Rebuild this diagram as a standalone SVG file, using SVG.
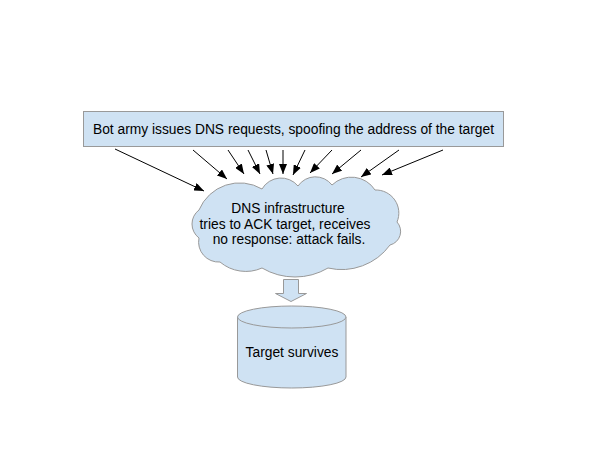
<svg xmlns="http://www.w3.org/2000/svg" width="600" height="450" viewBox="0 0 600 450">
<style>
.shape{fill:#cfe2f3;stroke:#999999;stroke-width:1}
.lbl{font-family:"Liberation Sans",Arial,sans-serif;font-size:13.8px;fill:#000;text-anchor:middle}
.conn{stroke:#000;stroke-width:1;fill:none;marker-end:url(#ah)}
</style>
<defs>
<marker id="ah" markerUnits="userSpaceOnUse" markerWidth="11" markerHeight="8" refX="10" refY="4" orient="auto">
<path d="M0,0 L10,4 L0,8 z" fill="#000"/>
</marker>
</defs>
<rect width="600" height="450" fill="#fff"/>
<g id="bots">
<rect class="shape" x="83.5" y="111.5" width="420" height="35" stroke="#888888"/>
<text class="lbl" x="293.5" y="134">Bot army issues DNS requests, spoofing the address of the target</text>
</g>
<g id="connectors">
<line class="conn" x1="115" y1="149" x2="204" y2="191"/>
<line class="conn" x1="193" y1="150" x2="227" y2="179"/>
<line class="conn" x1="228" y1="150" x2="244" y2="174"/>
<line class="conn" x1="248" y1="150" x2="260" y2="174"/>
<line class="conn" x1="266" y1="150" x2="273" y2="174"/>
<line class="conn" x1="283" y1="150" x2="283" y2="174"/>
<line class="conn" x1="305" y1="150" x2="293" y2="175"/>
<line class="conn" x1="332" y1="150" x2="310" y2="173"/>
<line class="conn" x1="361" y1="150" x2="332" y2="174"/>
<line class="conn" x1="399" y1="150" x2="361" y2="177"/>
<line class="conn" x1="443" y1="150" x2="382" y2="175"/>
<path id="down-arrow" class="shape" d="M283.5,279.5 H298.5 V293.5 H306.5 L291,301.5 L275.5,293.5 H283.5 Z"/>
</g>
<g id="dns">
<path class="shape" d="M199,210 A44 44 0 0 1 262,189 A22 22 0 0 1 298,186 A21 21 0 0 1 332,185 A28 28 0 0 1 375,190 A23 23 0 0 1 397,222 A14 14 0 0 1 390,245 A60 60 0 0 1 328,268 A65 65 0 0 1 262,268 A40 40 0 0 1 220,262 A20 20 0 0 1 199,238 A17.5 17.5 0 0 1 199,210 Z"/>
<text class="lbl" x="288" y="213">DNS infrastructure</text>
<text class="lbl" x="285" y="228.5">tries to ACK target, receives</text>
<text class="lbl" x="289" y="244">no response: attack fails.</text>
</g>
<g id="target">
<path class="shape" d="M237.5,317 V377 A54.25 11 0 0 0 346,377 V317"/>
<ellipse class="shape" cx="291.75" cy="317" rx="54.25" ry="11"/>
<text class="lbl" x="292" y="357">Target survives</text>
</g>
</svg>
